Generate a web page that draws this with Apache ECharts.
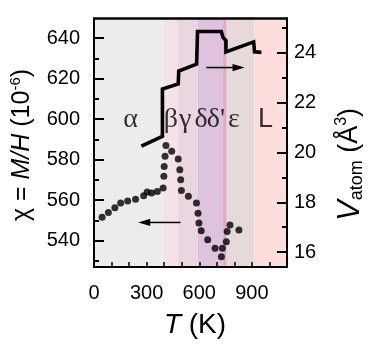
<!DOCTYPE html>
<html>
<head>
<meta charset="utf-8">
<script src="https://cdn.jsdelivr.net/npm/echarts@6/dist/echarts.min.js"></script>
<style>
html,body{margin:0;padding:0;background:#fff;}
#c{width:374px;height:357px;}
</style>
</head>
<body>
<div id="c"></div>
<script>
// ---- data ----
const xTickLabels = [0, 300, 600, 900];
const chiTickLabels = [540, 560, 580, 600, 620, 640];
const chiMinorTicks = [530, 550, 570, 590, 610, 630];
const volTickLabels = [16, 18, 20, 22, 24];
const volMinorTicks = [17, 19, 21, 23, 25];

// phase boundaries (K) and names
const phaseNames = ['α', 'β', 'γ', 'δ', "δ'", 'ε', 'L'];
const phaseStart = [0, 395, 479, 592, 736, 756, 913];
const phaseEnd   = [395, 479, 592, 736, 756, 913, 1100];
// label anchor positions (T, chi) for phase names
const phaseLabelT   = [208, 438, 520, 610, 695, 797, 977];
const phaseLabelChi = [600, 600, 600, 600, 600, 600, 600];

// magnetic susceptibility chi (1e-6) vs T
const chiT   = [46, 82, 119, 152, 192, 237, 283, 303, 328, 361, 394, 398, 400, 405, 410, 443, 480, 489, 494, 498, 538, 584, 593, 598, 611, 648, 690, 726, 732, 754, 759, 775, 826];
const chiVal = [551.6, 553.9, 556.3, 558.6, 559.6, 560.5, 562.2, 564.0, 563.5, 564.3, 566.0, 571.8, 576.7, 581.7, 587.0, 584.2, 580.4, 575.1, 570.1, 564.8, 561.9, 558.6, 553.6, 548.7, 544.9, 540.4, 536.3, 532.1, 536.3, 539.5, 544.5, 547.8, 545.3];

// atomic volume (A^3) vs T
const volT   = [270, 390, 390, 480, 483, 585, 590, 726, 735, 752, 752, 910, 915, 954];
const volVal = [20.25, 20.65, 22.55, 22.75, 23.27, 23.55, 24.86, 24.86, 24.62, 24.5, 24.04, 24.44, 24.04, 24.02];

// arrows: [T start, y start, T end (tip), y end]
const arrowVol = [640, 23.41, 858, 23.41];
const arrowChi = [493, 549, 252, 549];

// axis ranges
const tRange = [0, 1100];
const chiRange = [527, 650];
const volRange = [15.4, 25.4];

// ---- styles ----
const bandColors = ['#ececec', '#f3e3e8', '#e9d6e1', '#dec3de', '#dda9c4', '#e5d9d9', '#fedddd'];
const SANS = 'Liberation Sans, Arial, sans-serif';
const SERIF = 'Liberation Serif, Times New Roman, serif';

const chart = echarts.init(document.getElementById('c'), null, {renderer: 'canvas'});

function arrowRender(params, api) {
  const p1 = api.coord([api.value(0), api.value(1)]);
  const p2 = api.coord([api.value(2), api.value(3)]);
  const dx = p2[0] - p1[0], dy = p2[1] - p1[1];
  const len = Math.sqrt(dx * dx + dy * dy) || 1;
  const ux = dx / len, uy = dy / len;
  const headLen = 12, headW = 3.6;
  const b = [p2[0] - ux * headLen, p2[1] - uy * headLen];
  return {
    type: 'group',
    children: [
      {type: 'line', shape: {x1: p1[0], y1: p1[1], x2: b[0] + ux, y2: b[1] + uy}, style: {stroke: '#000', lineWidth: 1.5}},
      {type: 'polygon', shape: {points: [p2, [b[0] - uy * headW, b[1] + ux * headW], [b[0] + uy * headW, b[1] - ux * headW]]}, style: {fill: '#000'}}
    ]
  };
}

const axisLineStyle = {onZero: false, lineStyle: {color: '#000', width: 2}};
const labelStyle = {fontSize: 20, fontFamily: SANS, color: '#000'};

const option = {
  animation: false,
  backgroundColor: '#fff',
  grid: {left: 89, right: 84, top: 18, bottom: 90, containLabel: false},
  xAxis: [
    {
      type: 'value', position: 'bottom', min: tRange[0], max: tRange[1], interval: 100, z: 10,
      axisLine: axisLineStyle,
      axisTick: {inside: true, length: 5, lineStyle: {color: '#000', width: 1.5}},
      axisLabel: Object.assign({customValues: xTickLabels, margin: 16}, labelStyle),
      splitLine: {show: false},
      name: '{i|T}{g| (K)}', nameLocation: 'middle', nameGap: 44,
      nameTextStyle: {padding: [0, 0, 0, 9], rich: {
        i: {fontSize: 28, fontStyle: 'italic', fontFamily: SANS, color: '#000'},
        g: {fontSize: 28, fontFamily: SANS, color: '#000'}
      }}
    }
  ],
  yAxis: [
    {
      type: 'value', position: 'left', min: chiRange[0], max: chiRange[1], z: 10,
      axisLine: axisLineStyle,
      axisTick: {inside: true, length: 10, customValues: chiTickLabels, lineStyle: {color: '#000', width: 2}},
      axisLabel: Object.assign({customValues: chiTickLabels, margin: 14}, labelStyle),
      splitLine: {show: false},
      name: '{g|χ = }{i|M/H}{g| (10}{s|-6}{g|)}', nameLocation: 'middle', nameRotate: 90, nameGap: 58,
      nameTextStyle: {padding: [0, 5, 0, 0], rich: {
        g: {fontSize: 25, fontFamily: SANS, color: '#000', lineHeight: 28},
        i: {fontSize: 25, fontStyle: 'italic', fontFamily: SANS, color: '#000', lineHeight: 28},
        s: {fontSize: 15, fontFamily: SANS, color: '#000', verticalAlign: 'top', lineHeight: 15}
      }}
    },
    {
      type: 'value', position: 'right', min: volRange[0], max: volRange[1], z: 10,
      axisLine: axisLineStyle,
      axisTick: {inside: true, length: 10, customValues: volTickLabels, lineStyle: {color: '#000', width: 2}},
      axisLabel: Object.assign({customValues: volTickLabels, margin: 7}, labelStyle),
      splitLine: {show: false},
      name: '{v|V}{a|atom}{g| (Å}{s|3}{g|)}', nameLocation: 'middle', nameRotate: 90, nameGap: 47,
      nameTextStyle: {padding: [0, 44, 0, 0], rich: {
        v: {fontSize: 31, fontStyle: 'italic', fontFamily: SANS, color: '#000', lineHeight: 32},
        a: {fontSize: 18, fontFamily: SANS, color: '#000', verticalAlign: 'bottom', lineHeight: 18},
        g: {fontSize: 27, fontFamily: SANS, color: '#000', lineHeight: 32},
        s: {fontSize: 16, fontFamily: SANS, color: '#000', verticalAlign: 'top', lineHeight: 16}
      }}
    },
    {
      type: 'value', position: 'left', min: chiRange[0], max: chiRange[1], z: 10,
      axisLine: {show: false, onZero: false},
      axisTick: {inside: true, length: 5, customValues: chiMinorTicks, lineStyle: {color: '#000', width: 2}},
      axisLabel: {show: false}, splitLine: {show: false}
    },
    {
      type: 'value', position: 'right', min: volRange[0], max: volRange[1], z: 10,
      axisLine: {show: false, onZero: false},
      axisTick: {inside: true, length: 5, customValues: volMinorTicks, lineStyle: {color: '#000', width: 2}},
      axisLabel: {show: false}, splitLine: {show: false}
    }
  ],
  series: [
    {
      name: 'bands', type: 'line', xAxisIndex: 0, yAxisIndex: 2, z: 1,
      data: [[0, 600]], showSymbol: false, symbol: 'none', lineStyle: {width: 0},
      silent: true,
      markArea: {
        silent: true,
        data: phaseStart.map((s, i) => [
          {xAxis: s, itemStyle: {color: bandColors[i]}},
          {xAxis: phaseEnd[i]}
        ])
      }
    },
    {
      name: 'frameTop', type: 'line', xAxisIndex: 0, yAxisIndex: 0, z: 20,
      data: [], symbol: 'none', silent: true,
      markLine: {
        silent: true, symbol: ['none', 'none'], label: {show: false},
        lineStyle: {color: '#000', width: 2.5, type: 'solid'},
        emphasis: {disabled: true},
        data: [{yAxis: chiRange[1]}]
      }
    },
    {
      name: 'V', type: 'line', xAxisIndex: 0, yAxisIndex: 1, z: 5,
      data: volT.map((t, i) => [t, volVal[i]]),
      symbol: 'none',
      lineStyle: {color: '#000', width: 3.6, join: 'miter', cap: 'butt'}
    },
    {
      name: 'chi', type: 'scatter', xAxisIndex: 0, yAxisIndex: 0, z: 6,
      data: chiT.map((t, i) => [t, chiVal[i]]),
      symbol: 'circle', symbolSize: 7,
      itemStyle: {color: '#000'}
    },
    {
      name: 'phases', type: 'scatter', xAxisIndex: 0, yAxisIndex: 0, z: 7,
      symbolSize: 0,
      data: phaseNames.map((n, i) => ({name: n, value: [phaseLabelT[i], phaseLabelChi[i]]})),
      label: {
        show: true, position: 'inside', formatter: p => p.name,
        fontSize: 28, color: '#000',
        fontFamily: SERIF
      }
    },
    {
      name: 'arrowV', type: 'custom', xAxisIndex: 0, yAxisIndex: 1, z: 8,
      renderItem: arrowRender, encode: {x: [0, 2], y: [1, 3]},
      data: [arrowVol]
    },
    {
      name: 'arrowChi', type: 'custom', xAxisIndex: 0, yAxisIndex: 0, z: 8,
      renderItem: arrowRender, encode: {x: [0, 2], y: [1, 3]},
      data: [arrowChi]
    }
  ]
};
// phase label "L" is sans-serif
option.series[4].data[6].label = {fontFamily: SANS, fontSize: 27};
chart.setOption(option);
</script>
</body>
</html>
